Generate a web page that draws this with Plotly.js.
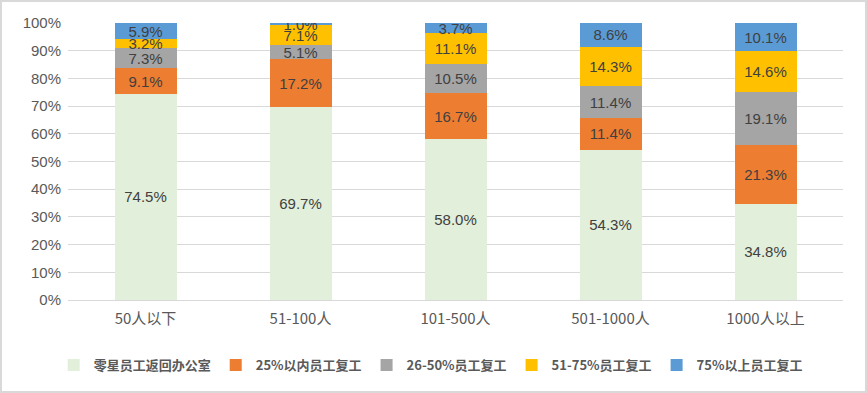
<!DOCTYPE html>
<html>
<head>
<meta charset="utf-8">
<script src="https://cdn.plot.ly/plotly-3.0.1.min.js"></script>
<style>
html,body{margin:0;padding:0;background:#fff;}
#wrap{width:867px;height:393px;box-sizing:border-box;border:2px solid #d9d9d9;position:relative;overflow:hidden;}
#chart{position:absolute;left:-2px;top:-2px;width:867px;height:393px;}
</style>
</head>
<body>
<div id="wrap"><div id="chart"></div></div>
<script>
const categories = ['50人以下', '51-100人', '101-500人', '501-1000人', '1000人以上'];
const seriesNames = ['零星员工返回办公室', '25%以内员工复工', '26-50%员工复工', '51-75%员工复工', '75%以上员工复工'];
const s1 = [74.5, 69.7, 58.0, 54.3, 34.8];
const s2 = [9.1, 17.2, 16.7, 11.4, 21.3];
const s3 = [7.3, 5.1, 10.5, 11.4, 19.1];
const s4 = [3.2, 7.1, 11.1, 14.3, 14.6];
const s5 = [5.9, 1.0, 3.7, 8.6, 10.1];
const colors = ['#E2EFDA', '#ED7D31', '#A5A5A5', '#FFC000', '#5B9BD5'];
const yTicks = [0,10,20,30,40,50,60,70,80,90,100];

const FONT = 'Liberation Sans, Arial, "Noto Sans CJK SC", sans-serif';
const all = [s1, s2, s3, s4, s5];
const traces = all.map((vals, i) => ({
  type: 'bar',
  name: seriesNames[i],
  x: categories,
  y: vals,
  marker: {color: colors[i], line: {width: 0}},
  text: vals.map(v => v.toFixed(1) + '%'),
  textposition: 'inside',
  insidetextanchor: 'middle',
  constraintext: 'none',
  textangle: 0,
  textfont: {family: FONT, size: 15, color: '#404040'},
  hoverinfo: 'skip'
}));

const layout = {
  width: 867, height: 393,
  barmode: 'stack',
  bargap: 0.6,
  paper_bgcolor: '#ffffff',
  plot_bgcolor: '#ffffff',
  margin: {l: 68, r: 24, t: 23, b: 93, autoexpand: false},
  showlegend: true,
  legend: {
    orientation: 'h', x: 0.468, xanchor: 'center', y: -0.235, yanchor: 'middle',
    font: {family: '"Noto Sans CJK SC", sans-serif', size: 13, color: '#595959', weight: 'bold'},
    itemwidth: 30, traceorder: 'normal', itemsizing: 'constant'
  },
  xaxis: {
    type: 'category',
    tickfont: {family: '"Noto Sans CJK SC", sans-serif', size: 15, color: '#595959'},
    showline: false, ticks: '', showgrid: false, zeroline: false, ticklabelstandoff: 8
  },
  yaxis: {
    range: [0, 100],
    tickvals: yTicks,
    ticktext: yTicks.map(v => v + '%'),
    tickfont: {family: FONT, size: 15, color: '#595959'},
    showgrid: true, gridcolor: '#d9d9d9', gridwidth: 1,
    zeroline: true, zerolinecolor: '#d9d9d9', zerolinewidth: 1,
    showline: false, ticks: '', ticklabelstandoff: 6
  }
};

Plotly.newPlot('chart', traces, layout, {displayModeBar: false, staticPlot: true});
</script>
</body>
</html>
